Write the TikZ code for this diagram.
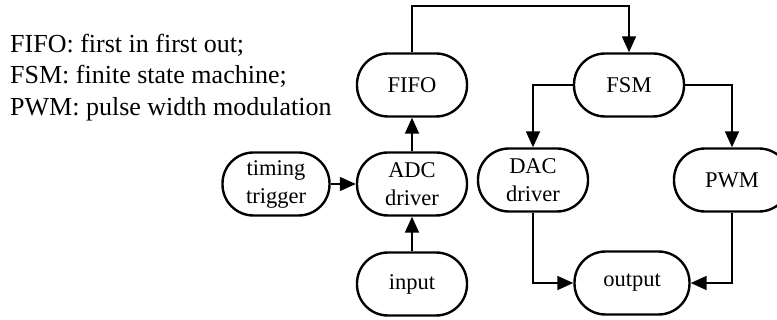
\documentclass[tikz,border=0pt]{standalone}
\usepackage{fontspec}
\setmainfont{Liberation Serif}
\usetikzlibrary{arrows.meta,calc}
\begin{document}
\begin{tikzpicture}[x=1pt,y=-1pt,
  box/.style={draw,line width=2.4pt,rounded corners=31pt,minimum width=110pt,minimum height=63pt,
    align=center,inner sep=0pt,font=\fontsize{22.5}{28}\selectfont},
  conn/.style={line width=1.8pt,-{Triangle[width=14pt,length=16pt]}},
  legend/.style={anchor=base west,inner sep=0pt,font=\fontsize{26}{30}\selectfont}]
\useasboundingbox (0,0) rectangle (777,320);
\clip (0,0) rectangle (777,320);
\node[legend] (l1) at (10,53) {FIFO: first in first out;};
\node[legend] (l2) at (10,84) {FSM: finite state machine;};
\node[legend] (l3) at (10,116) {PWM: pulse width modulation};
\node[box] (fifo) at (412,85) {FIFO};
\node[box] (fsm) at (629,85) {FSM};
\node[box,minimum width=107pt] (timing) at (276,184) {timing\\trigger};
\node[box] (adc) at (412,184) {ADC\\driver};
\node[box] (input) at (412,284) {input};
\node[box] (dac) at (533,180) {DAC\\driver};
\node[box,minimum width=116pt] (pwm) at (732,180) {PWM};
\node[box,minimum width=115pt] (output) at (632,283) {output};
\coordinate (top) at (520,6);
\draw[conn] (fifo.north) |- (top) -| (fsm.north);
\draw[conn] (fsm.west) -| (dac.north);
\draw[conn] (fsm.east) -| (pwm.north);
\draw[conn] (dac.south) |- (output.west);
\draw[conn] (pwm.south) |- (output.east);
\draw[conn] (timing.east) -- (adc.west);
\draw[conn] (input.north) -- (adc.south);
\draw[conn] (adc.north) -- (fifo.south);
\end{tikzpicture}
\end{document}
